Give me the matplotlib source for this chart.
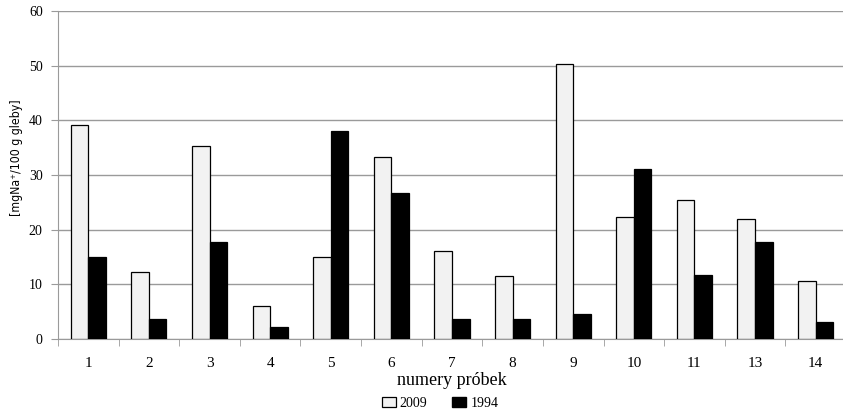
import matplotlib
matplotlib.use("Agg")
import matplotlib.pyplot as plt
from matplotlib.patches import Patch
import numpy as np

plt.rcParams.update({
    "font.family": "serif",
    "font.serif": ["Liberation Serif", "DejaVu Serif"],
})

samples = ["1", "2", "3", "4", "5", "6", "7", "8", "9", "10", "11", "13", "14"]
vals_2009 = [39.1, 12.2, 35.4, 6.0, 15.0, 33.3, 16.2, 11.5, 50.4, 22.3, 25.4, 22.0, 10.6]
vals_1994 = [15.0, 3.6, 17.7, 2.2, 38.1, 26.7, 3.6, 3.6, 4.6, 31.1, 11.7, 17.7, 3.1]
series_labels = ["2009", "1994"]

GRID = "#9a9a9a"

fig = plt.figure(figsize=(8.43, 4.13), dpi=100)
ax = fig.add_axes([0.0688, 0.179, 0.9347, 0.794])

x = np.arange(len(samples))
w = 0.29
ax.bar(x - w / 2, vals_2009, w, color="#f2f2f2", edgecolor="black", linewidth=0.9, zorder=3)
ax.bar(x + w / 2, vals_1994, w, color="black", edgecolor="black", linewidth=0.9, zorder=3)

ax.set_xlim(-0.5, len(samples) - 0.5)
ax.set_ylim(0, 60)
ax.set_yticks(range(0, 61, 10))
ax.set_yticklabels([str(v) for v in range(0, 61, 10)], fontsize=10)
ax.yaxis.grid(True, color=GRID, linewidth=1.0, zorder=0)
ax.set_axisbelow(True)

ax.set_xticks(x)
ax.set_xticklabels(samples, fontsize=11)
ax.tick_params(axis="x", length=0, pad=13)
ax.set_xticks(np.arange(len(samples) + 1) - 0.5, minor=True)
ax.tick_params(axis="x", which="minor", length=5, color=GRID, direction="out")
ax.tick_params(axis="y", length=5, color=GRID, direction="out", pad=6)

for s in ["top", "right"]:
    ax.spines[s].set_visible(False)
ax.spines["left"].set_color(GRID)
ax.spines["bottom"].set_color(GRID)

ax.set_ylabel("[mgNa\u207a/100 g gleby]", family="DejaVu Sans", fontstretch="condensed",
              fontsize=8.8)
ax.yaxis.set_label_coords(-0.045, 0.553)
ax.set_xlabel("numery próbek", fontsize=13, labelpad=1)

handles = [Patch(facecolor="#f2f2f2", edgecolor="black", linewidth=0.9),
           Patch(facecolor="black", edgecolor="black")]
fig.legend(handles, series_labels, loc="center", bbox_to_anchor=(0.522, 0.024), ncol=2,
           frameon=False, fontsize=10, handlelength=1.0, handleheight=0.8,
           handletextpad=0.3, columnspacing=1.8, borderpad=0)

fig.savefig("out.png", dpi=100)
